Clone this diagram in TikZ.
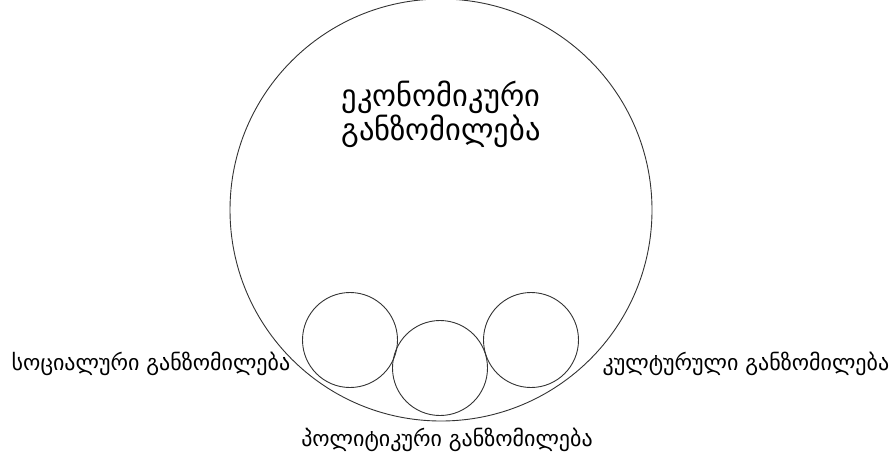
\documentclass[tikz,border=0pt]{standalone}
\usepackage{fontspec}
\setmainfont{DejaVu Sans}
\usetikzlibrary{positioning}

\begin{document}
\begin{tikzpicture}[x=1pt, y=-1pt,
  ring/.style={circle, draw=black!80, line width=0.9pt, inner sep=0pt},
  bigtext/.style={align=center, font=\fontsize{30.5}{34}\selectfont},
  lbl/.style={font=\fontsize{22}{25}\selectfont, inner sep=0pt},
]
\useasboundingbox (0,0) rectangle (893,456);

% outer circle and the three small ones
\node[ring, minimum size=422pt] (econ) at (441,210) {};
\node[ring, minimum size=95pt] (soc)  at (350,340) {};
\node[ring, minimum size=95pt] (pol)  at (440,368) {};
\node[ring, minimum size=95pt] (cult) at (531,340) {};

\node[bigtext] (econtxt) at (441,114) {ეკონომიკური\\განზომილება};

\node[lbl] (soctxt)  at (151,364) {სოციალური განზომილება};
\node[lbl] (culttxt) at (746,364) {კულტურული განზომილება};
\node[lbl] (poltxt)  at (447,440) {პოლიტიკური განზომილება};
\end{tikzpicture}
\end{document}
